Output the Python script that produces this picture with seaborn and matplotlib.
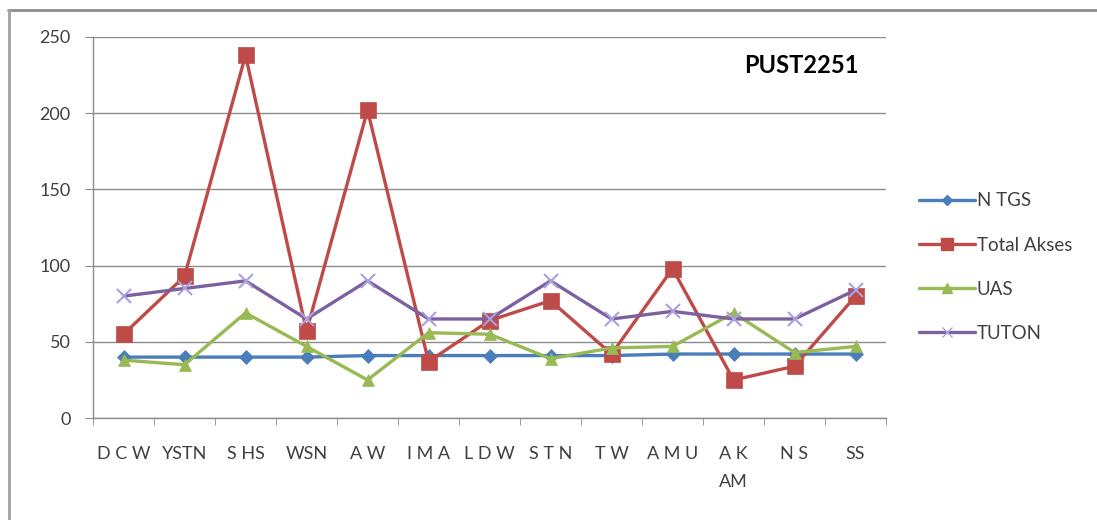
import pandas as pd
import matplotlib.pyplot as plt
import matplotlib.lines as mlines
import numpy as np
import seaborn as sns

# --- data ---
categories = ["D C W", "YSTN", "S HS", "WSN", "A W", "I M A", "L D W",
              "S T N", "T W", "A M U", "A K\nAM", "N S", "SS"]
n_tgs = [40, 40, 40, 40, 41, 41, 41, 41, 41, 42, 42, 42, 42]
total_akses = [55, 93, 238, 57, 202, 37, 64, 77, 42, 98, 25, 34, 80]
uas = [38, 35, 69, 47, 25, 56, 55, 39, 46, 47, 69, 43, 47]
tuton = [80, 85, 90, 65, 90, 65, 65, 90, 65, 70, 65, 65, 84]

series_names = ["N TGS", "Total Akses", "UAS", "TUTON"]
series_values = [n_tgs, total_akses, uas, tuton]
colors = ["#4A7EBB", "#BE4B48", "#98B954", "#7D60A0"]
markers = ["D", "s", "^", "x"]
marker_sizes = [7, 11, 9, 10]
marker_colors = ["#4A7EBB", "#BE4B48", "#98B954", "#A9A0E0"]

df = pd.DataFrame({
    "category": categories * len(series_names),
    "value": sum(series_values, []),
    "series": np.repeat(series_names, len(categories)),
})

sns.set_style("white")
plt.rcParams["font.family"] = ["Lato", "DejaVu Sans"]

fig = plt.figure(figsize=(10.97, 5.2), dpi=100)
ax = fig.add_axes([0.0848, 0.196, 0.7229, 0.733])

# grid first so lines sit on top
ax.set_yticks([0, 50, 100, 150, 200, 250])
ax.yaxis.grid(True, color="#8C8C8C", linewidth=1)
ax.set_axisbelow(True)

for name, color, mk, ms, mc in zip(series_names, colors, markers, marker_sizes, marker_colors):
    sub = df[df["series"] == name]
    sns.lineplot(data=sub, x="category", y="value", sort=False, color=color,
                 linewidth=2.4, marker=mk, markersize=ms, markerfacecolor=mc,
                 markeredgecolor=mc, markeredgewidth=1.5 if mk == "x" else 0.5,
                 ax=ax, legend=False)

ax.set_xlim(-0.5, len(categories) - 0.5)
ax.set_ylim(0, 250)
ax.set_xlabel("")
ax.set_ylabel("")

ax.set_xticks(range(len(categories)))
ax.set_xticklabels(categories, fontsize=13, color="#404040", linespacing=1.9)
ax.set_xticks(np.arange(-0.5, len(categories), 1), minor=True)
ax.tick_params(axis="x", which="major", length=0, pad=20)
ax.tick_params(axis="x", which="minor", length=5, color="#8C8C8C", direction="out")
ax.tick_params(axis="y", length=6, color="#8C8C8C", labelsize=13, labelcolor="#404040", pad=10)
ax.yaxis.set_ticks_position("left")
ax.xaxis.set_ticks_position("bottom")

for side in ["top", "right"]:
    ax.spines[side].set_visible(False)
for side in ["left", "bottom"]:
    ax.spines[side].set_color("#8C8C8C")
    ax.spines[side].set_linewidth(1)

ax.text(0.965, 0.925, "PUST2251", transform=ax.transAxes, ha="right", va="center",
        fontsize=17, fontweight="bold", color="black")

handles = [mlines.Line2D([], [], color=c, linewidth=2.4, marker=m, markersize=ms * 0.75,
                         markerfacecolor=mc, markeredgecolor=mc)
           for c, m, ms, mc in zip(colors, markers, marker_sizes, marker_colors)]
fig.legend(handles, series_names, loc="center left", bbox_to_anchor=(0.822, 0.486),
           frameon=False, fontsize=13.5, labelspacing=1.45, handlelength=3,
           handletextpad=0.1, labelcolor="#404040")

# outer chart frame (top and left edges visible)
fig.add_artist(mlines.Line2D([0.007, 1.0], [0.981, 0.981], transform=fig.transFigure,
                             color="#8C8C8C", linewidth=2))
fig.add_artist(mlines.Line2D([0.008, 0.008], [0.0, 0.981], transform=fig.transFigure,
                             color="#A0A0A0", linewidth=2))

fig.savefig("out.png", dpi=100)
